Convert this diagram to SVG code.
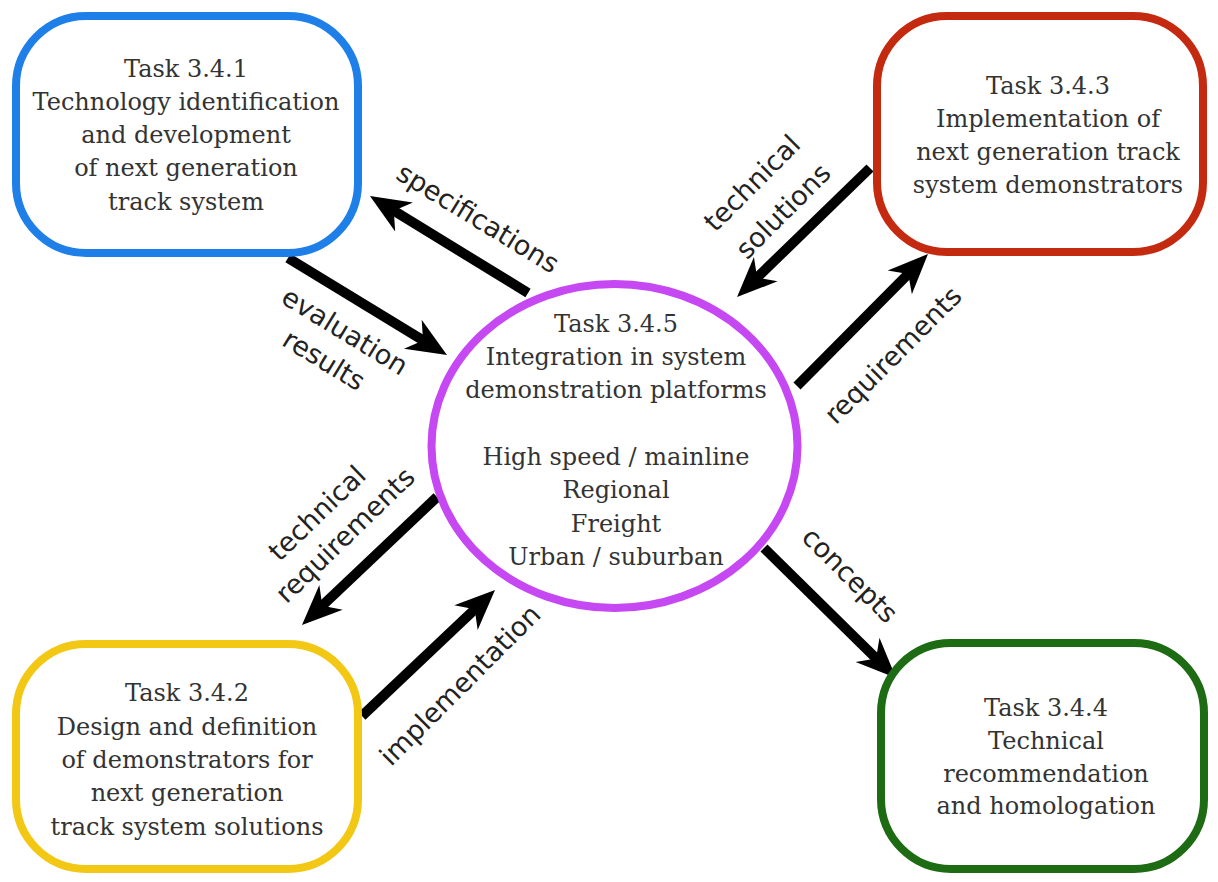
<svg xmlns="http://www.w3.org/2000/svg" width="1218" height="882" viewBox="0 0 1218 882">
<defs>
<style>
.box{fill:#fff;stroke-width:8}
.t{font-family:"DejaVu Serif","Liberation Serif",serif;font-size:24px;fill:#333;text-anchor:middle}
.lbl{font-family:"DejaVu Sans","Liberation Sans",sans-serif;font-size:27px;fill:#222;text-anchor:middle}
.arr{stroke:#000;stroke-width:10;fill:none;stroke-linecap:butt;marker-end:url(#ah)}
</style>
<marker id="ah" markerUnits="userSpaceOnUse" markerWidth="44" markerHeight="40" viewBox="0 0 44 40" refX="24" refY="20" orient="auto">
<path d="M44,20 L4,3 L16,20 L4,37 Z" fill="#000"/>
</marker>
</defs>
<rect width="1218" height="882" fill="#fff"/>
<g id="connectors">
<line class="arr" x1="528" y1="293" x2="387" y2="206.5"/>
<line class="arr" x1="288" y1="258" x2="429.9" y2="344.6"/>
<line class="arr" x1="870" y1="168" x2="751.4" y2="283.1"/>
<line class="arr" x1="797" y1="386" x2="913.9" y2="268.2"/>
<line class="arr" x1="437" y1="497" x2="316.5" y2="611.2"/>
<line class="arr" x1="362" y1="716" x2="480.5" y2="603.8"/>
<line class="arr" x1="764" y1="548" x2="881.8" y2="664"/>
<g>
<text class="lbl" transform="translate(478,218) rotate(31.5)" dy="0.35em">specifications</text>
<text class="lbl" transform="translate(345,331) rotate(31.5)" dy="0.35em">evaluation</text>
<text class="lbl" transform="translate(324,360) rotate(31.5)" dy="0.35em">results</text>
<text class="lbl" transform="translate(752,183) rotate(-45)" dy="0.35em">technical</text>
<text class="lbl" transform="translate(783,211) rotate(-45)" dy="0.35em">solutions</text>
<text class="lbl" transform="translate(893,355) rotate(-45)" dy="0.35em">requirements</text>
<text class="lbl" transform="translate(317,513) rotate(-44)" dy="0.35em">technical</text>
<text class="lbl" transform="translate(345,535) rotate(-44)" dy="0.35em">requirements</text>
<text class="lbl" transform="translate(460,685) rotate(-45)" dy="0.35em">implementation</text>
<text class="lbl" transform="translate(850,575) rotate(45)" dy="0.35em">concepts</text>
</g>
</g>
<g id="task341">
<rect class="box" x="16" y="16" width="342" height="237" rx="70" stroke="#1e7fe8"/>
<text class="t"><tspan x="186" y="77">Task 3.4.1</tspan><tspan x="186" y="110">Technology identification</tspan><tspan x="186" y="143">and development</tspan><tspan x="186" y="176">of next generation</tspan><tspan x="186" y="210">track system</tspan></text>
</g>
<g id="task343">
<rect class="box" x="877" y="16" width="326" height="236" rx="70" stroke="#c42a10"/>
<text class="t"><tspan x="1048" y="94">Task 3.4.3</tspan><tspan x="1048" y="127">Implementation of</tspan><tspan x="1048" y="160">next generation track</tspan><tspan x="1048" y="193">system demonstrators</tspan></text>
</g>
<g id="task342">
<rect class="box" x="16" y="644" width="342" height="225" rx="70" stroke="#f2c814"/>
<text class="t"><tspan x="187" y="701">Task 3.4.2</tspan><tspan x="187" y="735">Design and definition</tspan><tspan x="187" y="768">of demonstrators for</tspan><tspan x="187" y="801">next generation</tspan><tspan x="187" y="835">track system solutions</tspan></text>
</g>
<g id="task344">
<rect class="box" x="881" y="643" width="323" height="226" rx="70" stroke="#1d6b12"/>
<text class="t"><tspan x="1046" y="716">Task 3.4.4</tspan><tspan x="1046" y="749">Technical</tspan><tspan x="1046" y="782">recommendation</tspan><tspan x="1046" y="814">and homologation</tspan></text>
</g>
<g id="task345">
<ellipse cx="614.5" cy="446" rx="183" ry="162" fill="#fff" stroke="#c548f2" stroke-width="8"/>
<text class="t"><tspan x="616" y="332">Task 3.4.5</tspan><tspan x="616" y="365">Integration in system</tspan><tspan x="616" y="398">demonstration platforms</tspan><tspan x="616" y="465">High speed / mainline</tspan><tspan x="616" y="498">Regional</tspan><tspan x="616" y="532">Freight</tspan><tspan x="616" y="565">Urban / suburban</tspan></text>
</g>
</svg>
